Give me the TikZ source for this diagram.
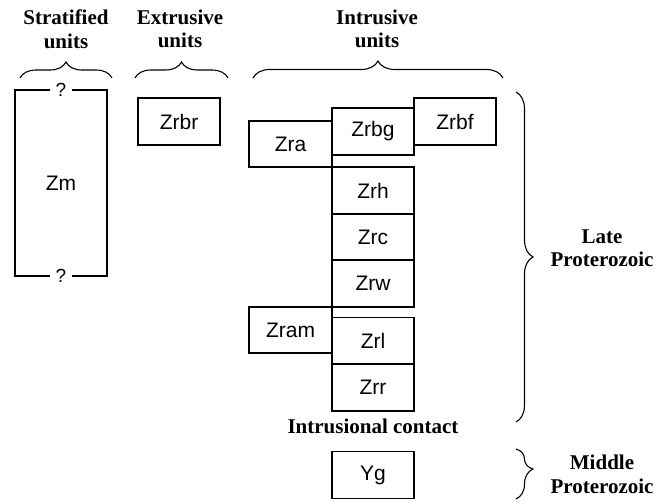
\documentclass[tikz,border=0pt]{standalone}
\usepackage{fontspec}
\setmainfont{Liberation Serif}
\newfontfamily\boxfont{Liberation Sans}
\usetikzlibrary{decorations.pathreplacing}
\begin{document}
\begin{tikzpicture}[x=1pt,y=1pt,
  unitbox/.style={draw,line width=1.1pt,minimum width=82pt,minimum height=47pt,inner sep=0pt,outer sep=0pt,font=\boxfont\fontsize{21}{24}\selectfont},
  head/.style={align=center,font=\bfseries\fontsize{21}{23.5}\selectfont,inner sep=0pt},
  bracesty/.style={decorate,decoration={brace,amplitude=#1},line width=1.1pt},
  qmark/.style={fill=white,inner xsep=6pt,inner ysep=1pt,font=\boxfont\fontsize{19}{20}\selectfont}
]
\useasboundingbox (0,0) rectangle (671,501);
% headers
\node[head] (hs) at (66,472) {Stratified\\units};
\node[head] (he) at (180,472) {Extrusive\\units};
\node[head] (hi) at (377,472) {Intrusive\\units};
% top braces
\coordinate (bs1) at (20,423); \coordinate (bs2) at (112,423);
\coordinate (be1) at (135,423); \coordinate (be2) at (228,423);
\coordinate (bi1) at (253,423); \coordinate (bi2) at (503,423);
\draw[bracesty=16] (bs1) -- (bs2);
\draw[bracesty=16] (be1) -- (be2);
\draw[bracesty=17] (bi1) -- (bi2);
% stratified
\node[unitbox,minimum width=92pt,minimum height=186pt] (Zm) at (61,318) {Zm};
\node[qmark] (q1) at (Zm.north) {?};
\node[qmark] (q2) at (Zm.south) {?};
% extrusive
\node[unitbox] (Zrbr) at (179,379.5) {Zrbr};
% intrusive
\node[unitbox,minimum width=83pt,minimum height=46pt] (Zra) at (290.5,357) {Zra};
\node[unitbox] (Zrbg) at (373,369.5) {Zrbg};
\node[unitbox] (Zrbf) at (455,379.5) {Zrbf};
\node[unitbox] (Zrh) at (373,310.5) {Zrh};
\node[unitbox] (Zrc) at (373,264) {Zrc};
\node[unitbox] (Zrw) at (373,217.5) {Zrw};
\node[unitbox,minimum width=83pt,minimum height=46pt] (Zram) at (290.5,171) {Zram};
\node[unitbox] (Zrl) at (373,160) {Zrl};
\node[unitbox] (Zrr) at (373,113.5) {Zrr};
\node[head] (ic) at (373,75) {Intrusional contact};
\node[unitbox] (Yg) at (373,26) {Yg};
% right braces
\coordinate (bl1) at (516,409); \coordinate (bl2) at (516,79);
\draw[bracesty=17] (bl1) -- (bl2);
\node[head] (late) at (602,253) {Late\\Proterozoic};
\coordinate (bm1) at (516,52); \coordinate (bm2) at (516,2);
\draw[bracesty=17,decoration={aspect=0.4}] (bm1) -- (bm2);
\node[head] (mid) at (602,26.5) {Middle\\Proterozoic};
\end{tikzpicture}
\end{document}
